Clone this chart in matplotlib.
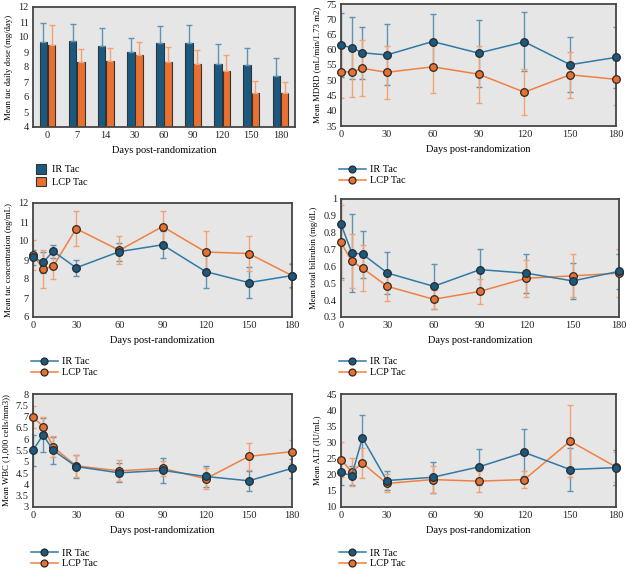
import numpy as np
import matplotlib; matplotlib.use('Agg')
import matplotlib.pyplot as plt
from matplotlib.patches import Patch
from matplotlib.lines import Line2D

plt.rcParams['font.family'] = ['Liberation Serif', 'DejaVu Serif']

# --------------------------
# --- data

days = [0, 7, 14, 30, 60, 90, 120, 150, 180]
day_labels = ['0', '7', '14', '30', '60', '90', '120', '150', '180']

# daily dose (bar chart, upper error only)
dose_ir = [9.67, 9.73, 9.40, 8.98, 9.63, 9.60, 8.22, 8.15, 7.42]
dose_ir_sd = [1.26, 1.17, 1.23, 0.97, 1.09, 1.20, 1.31, 1.15, 1.18]
dose_lcp = [9.47, 8.34, 8.42, 8.78, 8.34, 8.18, 7.76, 6.27, 6.25]
dose_lcp_sd = [1.35, 0.84, 0.87, 0.92, 1.02, 0.98, 1.06, 0.83, 0.77]

# MDRD
mdrd_ir = [61.5, 60.7, 59.0, 58.3, 62.7, 58.9, 62.6, 55.1, 57.5]
mdrd_ir_sd = [10.5, 10.2, 8.5, 10.0, 8.9, 11.0, 9.7, 9.0, 10.0]
mdrd_lcp = [52.8, 52.7, 53.9, 52.6, 54.4, 52.0, 46.1, 51.8, 50.3]
mdrd_lcp_sd = [8.5, 8.3, 9.2, 8.6, 8.6, 9.3, 7.6, 7.6, 8.4]

# tac concentration
conc_ir = [9.15, 8.87, 9.46, 8.59, 9.44, 9.80, 8.39, 7.81, 8.18]
conc_ir_sd = [0.40, 0.55, 0.33, 0.42, 0.47, 0.70, 0.85, 0.80, 0.60]
conc_lcp = [9.27, 8.54, 8.66, 10.65, 9.51, 10.76, 9.42, 9.34, 8.18]
conc_lcp_sd = [0.80, 1.00, 0.64, 0.92, 0.73, 0.82, 1.12, 0.92, 0.67]

# total bilirubin
bili_ir = [0.851, 0.680, 0.673, 0.561, 0.482, 0.581, 0.560, 0.514, 0.571]
bili_ir_sd = [0.32, 0.232, 0.14, 0.122, 0.135, 0.123, 0.115, 0.105, 0.105]
bili_lcp = [0.742, 0.630, 0.589, 0.482, 0.405, 0.452, 0.530, 0.544, 0.560]
bili_lcp_sd = [0.22, 0.16, 0.137, 0.09, 0.055, 0.075, 0.11, 0.128, 0.143]

# WBC
wbc_ir = [5.51, 6.19, 5.51, 4.79, 4.51, 4.62, 4.35, 4.16, 4.71]
wbc_ir_sd = [0.68, 0.75, 0.60, 0.50, 0.42, 0.57, 0.47, 0.45, 0.43]
wbc_lcp = [6.99, 6.56, 5.66, 4.82, 4.60, 4.71, 4.25, 5.24, 5.45]
wbc_lcp_sd = [0.50, 0.42, 0.46, 0.50, 0.46, 0.33, 0.47, 0.60, 0.50]

# ALT
alt_ir = [20.7, 19.7, 31.4, 18.2, 19.2, 22.4, 26.9, 21.6, 22.2]
alt_ir_sd = [4.0, 3.0, 7.0, 2.8, 4.8, 5.6, 7.2, 6.6, 5.5]
alt_lcp = [24.7, 20.9, 23.6, 17.3, 18.5, 18.0, 18.5, 30.4, 22.4]
alt_lcp_sd = [5.5, 4.4, 4.6, 2.8, 4.2, 3.2, 2.6, 11.2, 4.6]

# --------------------------
# --- style

blue = '#1b5a80'
orange = '#ea7030'
blue_err = '#5f93b5'
orange_err = '#f3a274'
edge = '#2a2a2a'
bg = '#e6e6e6'
spine_c = '#454545'

fig = plt.figure(figsize=(6.27, 5.68), dpi=100)
W, H = 627.0, 568.0

def ax_at(l, t, r, b):
    return fig.add_axes([l / W, 1 - b / H, (r - l) / W, (b - t) / H])

def style(ax, ylabel):
    ax.set_facecolor(bg)
    for s in ax.spines.values():
        s.set_color(spine_c)
        s.set_linewidth(1.3)
    ax.tick_params(length=0, labelsize=7.5, pad=3, colors='#222222')
    ax.set_ylabel(ylabel, fontsize=6.3, labelpad=4)
    ax.set_xlabel('Days post-randomization', fontsize=7.5, labelpad=4)

def line_panel(ax, ir, ir_sd, lcp, lcp_sd, ylim, yticks, ylabel, leg_y):
    ax.errorbar(days, ir, yerr=ir_sd, fmt='none', ecolor=blue_err, elinewidth=1.0,
                capsize=2, capthick=1.0, zorder=2)
    ax.errorbar(days, lcp, yerr=lcp_sd, fmt='none', ecolor=orange_err, elinewidth=1.0,
                capsize=2, capthick=1.0, zorder=2)
    ax.plot(days, ir, color='#2f7aa6', lw=1.1, marker='o', ms=5.5, mfc=blue,
            mec=edge, mew=0.9, zorder=4, clip_on=False)
    ax.plot(days, lcp, color='#f08040', lw=1.1, marker='o', ms=5.5, mfc=orange,
            mec=edge, mew=0.9, zorder=3, clip_on=False)
    ax.set_xlim(0, 180)
    ax.set_xticks([0, 30, 60, 90, 120, 150, 180])
    ax.set_ylim(*ylim)
    ax.set_yticks(yticks)
    ax.set_yticklabels([('%g' % v) for v in yticks])
    style(ax, ylabel)
    handles = [Line2D([0], [0], color='#2f7aa6', lw=1.1, marker='o', ms=5, mfc=blue, mec=edge, mew=0.9),
               Line2D([0], [0], color='#f08040', lw=1.1, marker='o', ms=5, mfc=orange, mec=edge, mew=0.9)]
    x0 = ax.get_position().x0
    fig.legend(handles, ['IR Tac', 'LCP Tac'], loc='upper left',
               bbox_to_anchor=(x0 - 0.012, 1 - leg_y / H), frameon=False,
               fontsize=7.5, handlelength=2.6, labelspacing=0.15, borderpad=0,
               handletextpad=0.4)

# --------------------------
# --- panel 1: bars

ax1 = ax_at(33, 7, 295, 127)
pos = np.arange(len(days))
ax1.bar(pos - 0.14, dose_ir, width=0.26, color=blue, edgecolor='#333333',
        linewidth=0.8, zorder=2)
ax1.bar(pos + 0.14, dose_lcp, width=0.26, color=orange, edgecolor='#333333',
        linewidth=0.8, zorder=2)
ax1.errorbar(pos - 0.14, dose_ir, yerr=[np.zeros(len(days)), dose_ir_sd], fmt='none',
             ecolor=blue_err, elinewidth=1.0, capsize=2, capthick=1.0, zorder=3)
ax1.errorbar(pos + 0.14, dose_lcp, yerr=[np.zeros(len(days)), dose_lcp_sd], fmt='none',
             ecolor=orange_err, elinewidth=1.0, capsize=2, capthick=1.0, zorder=3)
ax1.set_xlim(-0.5, 8.5)
ax1.set_xticks(pos)
ax1.set_xticklabels(day_labels)
ax1.set_ylim(4, 12)
ax1.set_yticks(range(4, 13))
style(ax1, 'Mean tac daily dose (mg/day)')
fig.legend([Patch(facecolor=blue, edgecolor='#333333', lw=0.8),
            Patch(facecolor=orange, edgecolor='#333333', lw=0.8)],
           ['IR Tac', 'LCP Tac'], loc='upper left',
           bbox_to_anchor=(33 / W - 0.004, 1 - 159 / H), frameon=False, fontsize=7.5,
           handlelength=1.0, handleheight=1.0, labelspacing=0.25, borderpad=0,
           handletextpad=0.6)

# --------------------------
# --- line panels

ax2 = ax_at(341, 4, 616, 126)
line_panel(ax2, mdrd_ir, mdrd_ir_sd, mdrd_lcp, mdrd_lcp_sd, (35, 75), range(35, 80, 5),
           'Mean MDRD (mL/min/1.73 m2)', 160)

ax3 = ax_at(33, 203, 292, 317)
line_panel(ax3, conc_ir, conc_ir_sd, conc_lcp, conc_lcp_sd, (6, 12), range(6, 13),
           'Mean tac concentration (ng/mL)', 352)

ax4 = ax_at(341, 199, 619, 317)
line_panel(ax4, bili_ir, bili_ir_sd, bili_lcp, bili_lcp_sd, (0.3, 1.0),
           [0.3, 0.4, 0.5, 0.6, 0.7, 0.8, 0.9, 1.0], 'Mean total bilirubin (mg/dL)', 352)

ax5 = ax_at(33, 394, 292, 507)
line_panel(ax5, wbc_ir, wbc_ir_sd, wbc_lcp, wbc_lcp_sd, (3, 8), np.arange(3, 8.01, 0.5),
           'Mean WBC (1,000 cells/mm3))', 543)

ax6 = ax_at(341, 394, 616, 507)
line_panel(ax6, alt_ir, alt_ir_sd, alt_lcp, alt_lcp_sd, (10, 45), range(10, 50, 5),
           'Mean ALT (IU/mL)', 543)

plt.savefig('out.png', dpi=100)
